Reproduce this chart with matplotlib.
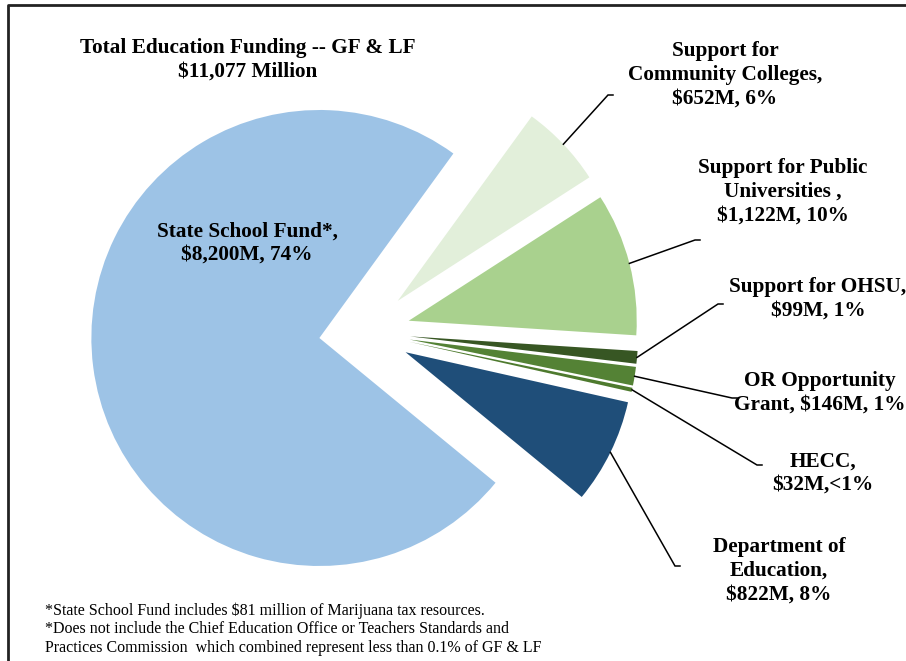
import matplotlib
matplotlib.use("Agg")
import matplotlib.pyplot as plt
import numpy as np

# Education funding split, $ millions (GF & LF)
categories = ["Support for Community Colleges", "Support for Public Universities",
              "Support for OHSU", "OR Opportunity Grant", "HECC",
              "Department of Education", "State School Fund"]
values = [652, 1122, 99, 146, 32, 822, 8200]
total_label = "$11,077 Million"
slice_labels = [
    "Support for\nCommunity Colleges,\n$652M, 6%",
    "Support for Public\nUniversities ,\n$1,122M, 10%",
    "Support for OHSU,\n$99M, 1%",
    "OR Opportunity\nGrant, $146M, 1%",
    "HECC,\n$32M,<1%",
    "Department of\nEducation,\n$822M, 8%",
    "State School Fund*,\n$8,200M, 74%",
]
colors = ["#E2EFDA", "#A9D18E", "#375623", "#548235", "#4E7A2E", "#1F4E79", "#9DC3E6"]

# layout in pixels (figure is 906 x 661)
W, H = 906, 661
CX, CY, R = 364.6, 332.2, 228.0


def px(x, y):
    return ((x - CX) / R, (CY - y) / R)


fig = plt.figure(figsize=(W / 100, H / 100), dpi=100)
ax = fig.add_axes([0, 0, 1, 1])
wedges, _ = ax.pie(values, colors=colors, startangle=54, counterclock=False,
                   explode=[0.2] * len(values), radius=1, frame=True,
                   wedgeprops=dict(linewidth=0))
ax.set_xlim(px(0, 0)[0], px(W, 0)[0])
ax.set_ylim(px(0, H)[1], px(0, 0)[1])
ax.axis("off")

bold = dict(family="Liberation Serif", fontweight="bold", fontsize=15.3,
            ha="center", va="center", linespacing=1.25)

# outside labels: (label centre, elbow point of the leader line)
label_pos = [(725, 75), (783, 192), (818, 299), (820, 393), (823, 473), (779, 571)]
elbows = [(608, 95), (695, 240), (718, 304), (732, 398), (757, 465), (675, 566)]

for w, text, (lx, ly), (ex, ey) in zip(wedges[:6], slice_labels[:6], label_pos, elbows):
    tm = np.deg2rad((w.theta1 + w.theta2) / 2)
    sx = w.center[0] + w.r * np.cos(tm)
    sy = w.center[1] + w.r * np.sin(tm)
    e = px(ex, ey)
    e2 = px(ex + 5, ey)
    ax.plot([sx, e[0], e2[0]], [sy, e[1], e2[1]], color="black", lw=1.1,
            solid_joinstyle="miter")
    ax.text(*px(lx, ly), text, **bold)

ax.text(*px(247, 243), slice_labels[6], **bold)
ax.text(*px(248, 60), "Total Education Funding -- GF & LF\n" + total_label, **bold)

notes = ("*State School Fund includes $81 million of Marijuana tax resources.\n"
         "*Does not include the Chief Education Office or Teachers Standards and\n"
         "Practices Commission  which combined represent less than 0.1% of GF & LF")
ax.text(*px(45, 629), notes, family="Liberation Serif", fontsize=11.5,
        ha="left", va="center", linespacing=1.22)

# chart border (runs off the right and bottom edges)
ax.plot(*zip(px(8, H + 5), px(8, 5), px(W + 5, 5)), color="#222222", lw=2,
        clip_on=False)

fig.savefig("out.png", dpi=100)
